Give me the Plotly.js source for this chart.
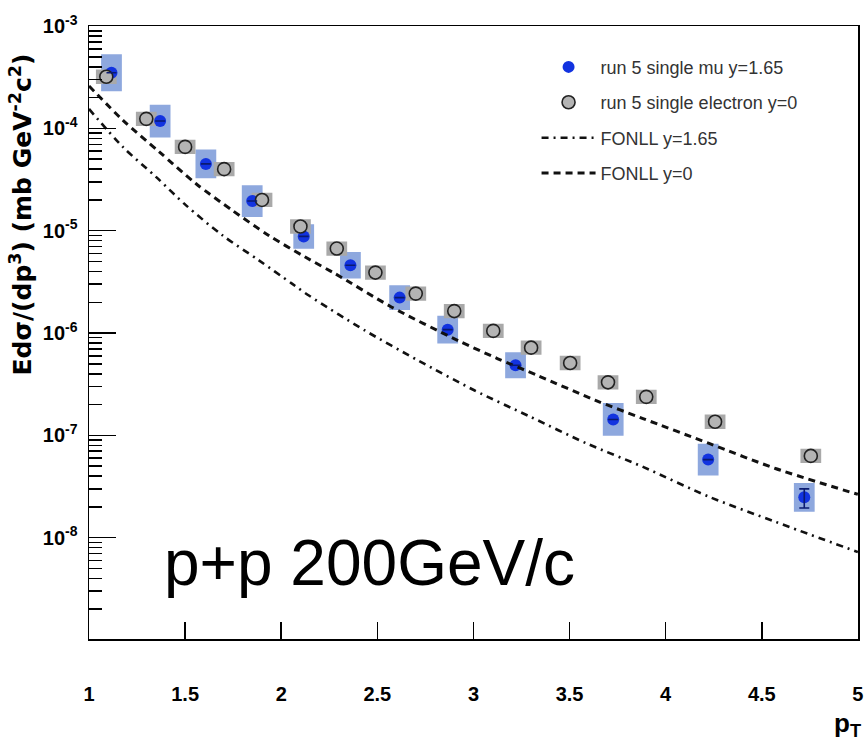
<!DOCTYPE html>
<html><head><meta charset="utf-8">
<script src="https://cdn.plot.ly/plotly-3.0.1.min.js"></script>
<style>html,body{margin:0;padding:0;background:#fff}</style>
</head><body><div id="chart" style="width:864px;height:748px"></div>
<script>
// ---- data ----
const muPt      = [1.117, 1.37, 1.608, 1.849, 2.117, 2.36, 2.616, 2.866, 3.219, 3.727, 4.221, 4.721];
const muVal     = [3.5e-4, 1.18e-4, 4.5e-5, 1.95e-5, 8.8e-6, 4.6e-6, 2.22e-6, 1.08e-6, 4.85e-7, 1.43e-7, 5.8e-8, 2.48e-8];
const muSysDex  = [0.18, 0.16, 0.14, 0.155, 0.12, 0.13, 0.12, 0.135, 0.127, 0.16, 0.155, 0.14];
const muErrHi   = [null, null, null, null, null, null, null, null, null, null, null, 0.52e-8];
const muErrLo   = [null, null, null, null, null, null, null, null, null, null, null, 0.53e-8];

const elPt      = [1.09, 1.298, 1.50, 1.703, 1.90, 2.10, 2.289, 2.49, 2.70, 2.90, 3.103, 3.30, 3.503, 3.70, 3.899, 4.257, 4.755];
const elVal     = [3.2e-4, 1.24e-4, 6.6e-5, 4.0e-5, 2.0e-5, 1.1e-5, 6.7e-6, 3.9e-6, 2.43e-6, 1.64e-6, 1.05e-6, 7.2e-7, 5.1e-7, 3.3e-7, 2.38e-7, 1.36e-7, 6.3e-8];
const elSysDex  = [0.07, 0.07, 0.07, 0.07, 0.07, 0.07, 0.07, 0.07, 0.07, 0.07, 0.07, 0.07, 0.07, 0.07, 0.07, 0.07, 0.07];

const fonll0Pt   = [1.0, 1.177, 1.367, 1.557, 1.746, 1.935, 2.125, 2.28, 2.573, 2.917, 3.124, 3.331, 3.632, 3.882, 4.226, 4.571, 5.0];
const fonll0Val  = [2.60e-4, 1.20e-4, 5.87e-5, 2.88e-5, 1.58e-5, 9.0e-6, 5.53e-6, 3.81e-6, 1.80e-6, 8.5e-7, 5.64e-7, 3.87e-7, 2.21e-7, 1.46e-7, 8.34e-8, 4.75e-8, 2.65e-8];
const fonll165Pt  = [1.0, 1.177, 1.35, 1.505, 1.694, 1.884, 2.056, 2.142, 2.435, 2.711, 3.004, 3.296, 3.589, 3.882, 4.226, 4.571, 5.0];
const fonll165Val = [1.55e-4, 6.56e-5, 3.34e-5, 1.77e-5, 9.02e-6, 5.14e-6, 3.04e-6, 2.34e-6, 1.06e-6, 5.42e-7, 2.76e-7, 1.52e-7, 8.34e-8, 4.92e-8, 2.51e-8, 1.43e-8, 7.24e-9];

const legendNames = ['run 5 single mu y=1.65', 'run 5 single electron y=0', 'FONLL y=1.65', 'FONLL y=0'];
const xTickVals = [1, 1.5, 2, 2.5, 3, 3.5, 4, 4.5, 5];
const xTickText = ['1', '1.5', '2', '2.5', '3', '3.5', '4', '4.5', '5'];
const yTickVals = [1e-8, 1e-7, 1e-6, 1e-5, 1e-4, 1e-3];
const yTickText = ['10<sup>-8</sup>', '10<sup>-7</sup>', '10<sup>-6</sup>', '10<sup>-5</sup>', '10<sup>-4</sup>', '10<sup>-3</sup>'];

// ---- helpers ----
const BOX_HW = 0.054;
function boxes(pts, vals, dex) {
  const xs = [], ys = [];
  pts.forEach((p, i) => {
    const f = Math.pow(10, dex[i]);
    const lo = vals[i] / f, hi = vals[i] * f;
    xs.push(p - BOX_HW, p + BOX_HW, p + BOX_HW, p - BOX_HW, p - BOX_HW, null);
    ys.push(lo, lo, hi, hi, lo, null);
  });
  return {x: xs, y: ys};
}
const muBox = boxes(muPt, muVal, muSysDex);
const elBox = boxes(elPt, elVal, elSysDex);

const minorVals = [];
for (let n = -9; n <= -4; n++) for (let k = 2; k <= 9; k++) minorVals.push(k * Math.pow(10, n));

const SANS = 'Liberation Sans, Arial, sans-serif';

const traces = [
  {x: muBox.x, y: muBox.y, mode: 'lines', fill: 'toself', fillcolor: '#8ea8de',
   line: {width: 0, color: '#8ea8de'}, showlegend: false, hoverinfo: 'skip'},
  {x: elBox.x, y: elBox.y, mode: 'lines', fill: 'toself', fillcolor: '#a9a9a9',
   line: {width: 0, color: '#a9a9a9'}, showlegend: false, hoverinfo: 'skip'},
  {x: muPt, y: muVal, mode: 'markers', name: legendNames[0], legendgroup: 'a',
   marker: {color: '#1233e0', size: 12, symbol: 'circle'}},
  {x: elPt, y: elVal, mode: 'markers', name: legendNames[1], legendgroup: 'b',
   marker: {color: '#b4b4b4', size: 13, symbol: 'circle', line: {color: '#222', width: 1.6}}},
  {x: fonll165Pt, y: fonll165Val, mode: 'lines', name: legendNames[2], legendgroup: 'c',
   line: {color: '#111', width: 2.6, dash: '7px,5px,2px,5px', shape: 'spline', smoothing: 0.8}},
  {x: fonll0Pt, y: fonll0Val, mode: 'lines', name: legendNames[3], legendgroup: 'd',
   line: {color: '#111', width: 3, dash: '7px,5px', shape: 'spline', smoothing: 0.8}},
  {x: muPt, y: muVal, mode: 'markers', showlegend: false, hoverinfo: 'skip',
   marker: {size: 1, color: 'rgba(0,0,0,0)'},
   error_y: {type: 'data', symmetric: false, array: muErrHi, arrayminus: muErrLo,
             color: '#0a1a70', thickness: 1.6, width: 5}}
];

const layout = {
  width: 864, height: 748,
  margin: {l: 89, r: 6, t: 26, b: 109},
  paper_bgcolor: '#fff', plot_bgcolor: '#fff',
  showlegend: true,
  legend: {x: 0.582, y: 0.963, xanchor: 'left', yanchor: 'top', bgcolor: 'rgba(0,0,0,0)',
           font: {family: SANS, size: 18, color: '#333'}, traceorder: 'grouped',
           tracegroupgap: 9, itemwidth: 54},
  xaxis: {type: 'linear', range: [1, 5.0005], tickmode: 'array', tickvals: xTickVals, ticktext: xTickText,
          ticks: 'inside', ticklen: 17, ticklabeloverflow: 'allow',
          tickwidth: 1.5, tickcolor: '#000', showline: true, linecolor: '#000', linewidth: 1.5,
          mirror: true, showgrid: false, zeroline: false, ticklabelstandoff: 36,
          tickfont: {family: SANS, size: 20, color: '#000', weight: 'bold'}},
  yaxis: {type: 'log', range: [-8.99, -2.999], tickmode: 'array', tickvals: yTickVals, ticktext: yTickText,
          ticks: 'inside', ticklen: 27, tickwidth: 1.5, tickcolor: '#000',
          showline: true, linecolor: '#000', linewidth: 1.5, mirror: true,
          showgrid: false, zeroline: false, ticklabelstandoff: 6, ticklabeloverflow: 'allow',
          tickfont: {family: SANS, size: 20, color: '#000', weight: 'bold'},
          minor: {tickmode: 'array', tickvals: minorVals, ticks: 'inside', ticklen: 13,
                  tickwidth: 1.5, tickcolor: '#000', showgrid: false}},
  annotations: [
    {xref: 'paper', yref: 'paper', x: -0.0875, y: 0.692, xanchor: 'center', yanchor: 'middle',
     textangle: -90, showarrow: false,
     text: 'Ed&#963;/(dp<sup>3</sup>) (mb GeV<sup>-2</sup>c<sup>2</sup>)',
     font: {family: 'DejaVu Sans, sans-serif', size: 25, color: '#000', weight: 'bold'}},
    {xref: 'paper', yref: 'paper', x: 0.095, y: 0.124, xanchor: 'left', yanchor: 'middle',
     showarrow: false, text: 'p+p 200GeV/c',
     font: {family: SANS, size: 64, color: '#000'}},
    {xref: 'paper', yref: 'paper', x: 0.986, y: -0.14, xanchor: 'center', yanchor: 'middle',
     showarrow: false, text: 'p<sub>T</sub>',
     font: {family: SANS, size: 26, color: '#000', weight: 'bold'}}
  ]
};

Plotly.newPlot('chart', traces, layout, {displayModeBar: false, staticPlot: true});
</script>
</body></html>
